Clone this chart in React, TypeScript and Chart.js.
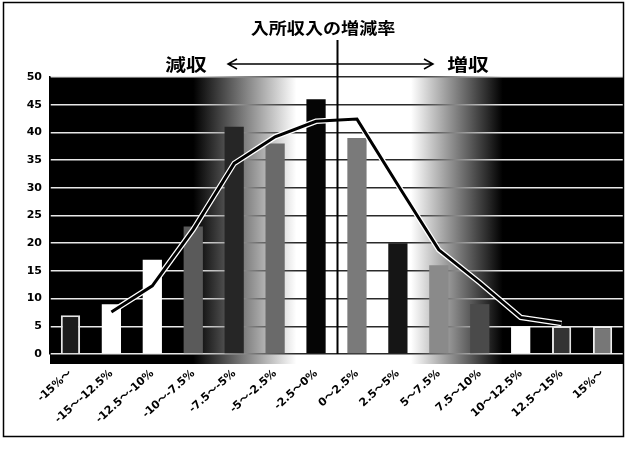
import React, { useEffect, useRef } from "react";
import { Chart, registerables } from "chart.js";

Chart.register(...registerables);

// 入所収入の増減率の階級
const categories = [
  "-15%～",
  "-15～-12.5%",
  "-12.5～-10%",
  "-10～-7.5%",
  "-7.5～-5%",
  "-5～-2.5%",
  "-2.5～0%",
  "0～2.5%",
  "2.5～5%",
  "5～7.5%",
  "7.5～10%",
  "10～12.5%",
  "12.5～15%",
  "15%～",
];

// 各階級の施設数
const facilityCounts = [7, 9, 17, 23, 41, 38, 46, 39, 20, 16, 9, 5, 5, 5];

// 移動平均の線
const trendValues = [null, 7.6, 12.3, 22.5, 34.4, 39.2, 42, 42.4, 30.5, 18.8, 12.9, 6.6, 5.5, null];

// y 軸の目盛
const yTicks = [0, 5, 10, 15, 20, 25, 30, 35, 40, 45, 50];

const titleText = "入所収入の増減率";
const leftLabel = "減収";
const rightLabel = "増収";

// 棒の塗り
const barFills = [
  "#1c1c1c", "#ffffff", "#ffffff", "#5a5a5a", "#262626", "#6a6a6a", "#050505",
  "#7a7a7a", "#151515", "#8a8a8a", "#4a4a4a", "#ffffff", "#333333", "#777777",
];
const barBorders = [
  "#e6e6e6", "#ffffff", "#ffffff", "#5a5a5a", "#262626", "#6a6a6a", "#050505",
  "#7a7a7a", "#151515", "#8a8a8a", "#4a4a4a", "#ffffff", "#e0e0e0", "#eeeeee",
];
const barBorderWidths = [2, 0, 0, 0, 0, 0, 0, 0, 0, 0, 0, 0, 2, 2];

const JP = '"Noto Sans CJK JP", "DejaVu Sans", sans-serif';
const LAT = '"DejaVu Sans", "Noto Sans CJK JP", sans-serif';

function plotGradient(ctx: CanvasRenderingContext2D, left: number, right: number, invert: boolean) {
  const g = ctx.createLinearGradient(left, 0, right, 0);
  const dark = invert ? "#e8e8e8" : "#000000";
  const light = invert ? "#2a2a2a" : "#ffffff";
  g.addColorStop(0, dark);
  g.addColorStop(0.25, dark);
  g.addColorStop(0.43, light);
  g.addColorStop(0.63, light);
  g.addColorStop(0.79, dark);
  g.addColorStop(1, dark);
  return g;
}

// 横に少し広げた文字
function wideText(ctx: CanvasRenderingContext2D, text: string, cx: number, cy: number, size: number, sx: number) {
  ctx.save();
  ctx.translate(cx, cy);
  ctx.scale(sx, 1);
  ctx.font = `bold ${size}px ${JP}`;
  ctx.textAlign = "center";
  ctx.textBaseline = "middle";
  ctx.fillText(text, 0, 0);
  ctx.restore();
}

const decorPlugin = {
  id: "decor",
  beforeDraw(chart: any) {
    const { ctx, chartArea: a } = chart;
    ctx.save();
    ctx.fillStyle = "#ffffff";
    ctx.fillRect(0, 0, chart.width, chart.height);
    // 背景のグラデーション
    ctx.fillStyle = plotGradient(ctx, a.left, a.right, false);
    ctx.fillRect(a.left, a.top, a.right - a.left, a.bottom - a.top);
    // 床
    ctx.fillRect(a.left, a.bottom, a.right - a.left, 10);
    ctx.restore();
  },
  afterDatasetsDraw(chart: any) {
    const { ctx, chartArea: a, scales } = chart;
    const xs = scales.x;
    const mid = (xs.getPixelForValue(6) + xs.getPixelForValue(7)) / 2 + 1;
    ctx.save();
    // 0% の縦線
    ctx.strokeStyle = "#000";
    ctx.lineWidth = 2;
    ctx.beginPath();
    ctx.moveTo(mid, 40);
    ctx.lineTo(mid, a.bottom);
    ctx.stroke();

    // 矢印
    const ay = 64;
    const ax1 = 228;
    const ax2 = 433;
    ctx.lineWidth = 1.5;
    ctx.beginPath();
    ctx.moveTo(ax1, ay);
    ctx.lineTo(ax2, ay);
    ctx.moveTo(ax1 + 9, ay - 5);
    ctx.lineTo(ax1, ay);
    ctx.lineTo(ax1 + 9, ay + 5);
    ctx.moveTo(ax2 - 9, ay - 5);
    ctx.lineTo(ax2, ay);
    ctx.lineTo(ax2 - 9, ay + 5);
    ctx.stroke();

    ctx.fillStyle = "#000";
    wideText(ctx, leftLabel, 186, 65, 17, 1.22);
    wideText(ctx, rightLabel, 468, 65, 17, 1.22);
    wideText(ctx, titleText, 323, 28, 16, 1.13);
    ctx.restore();
  },
  afterDraw(chart: any) {
    const { ctx } = chart;
    ctx.save();
    ctx.strokeStyle = "#000";
    ctx.lineWidth = 1.5;
    ctx.strokeRect(3.5, 2.5, 620, 434);
    ctx.restore();
  },
};

export default function App() {
  const canvasRef = useRef<HTMLCanvasElement | null>(null);

  useEffect(() => {
    const canvas = canvasRef.current;
    if (!canvas) return;
    let gridGrad: CanvasGradient | null = null;
    let gridKey = "";
    const gridColor = (c: any) => {
      const chart = c.chart;
      const a = chart.chartArea;
      if (!a) return "#888";
      const key = `${a.left}-${a.right}`;
      if (!gridGrad || key !== gridKey) {
        gridGrad = plotGradient(chart.ctx, a.left, a.right, true);
        gridKey = key;
      }
      return gridGrad;
    };

    const chart = new Chart(canvas, {
      type: "bar",
      data: {
        labels: categories,
        datasets: [
          {
            type: "line",
            label: "trend",
            data: trendValues,
            borderColor: "#000000",
            borderWidth: 3,
            pointRadius: 0,
            tension: 0,
            order: 0,
          },
          {
            type: "line",
            label: "trend-edge",
            data: trendValues,
            borderColor: "#ffffff",
            borderWidth: 5.5,
            pointRadius: 0,
            tension: 0,
            order: 1,
          },
          {
            type: "bar",
            label: "facilities",
            data: facilityCounts,
            backgroundColor: barFills,
            borderColor: barBorders,
            borderWidth: barBorderWidths,
            categoryPercentage: 1,
            barPercentage: 0.47,
            order: 2,
          },
        ] as any,
      },
      options: {
        responsive: false,
        animation: false,
        layout: { padding: { top: 77, right: 2, left: 0, bottom: 0 } },
        plugins: {
          legend: { display: false },
          tooltip: { enabled: false },
          title: { display: false },
        },
        scales: {
          x: {
            offset: true,
            grid: { display: false, drawTicks: false },
            border: { display: false },
            ticks: {
              color: "#000",
              font: { family: LAT, size: 11, weight: "bold" },
              minRotation: 42,
              maxRotation: 42,
              padding: 13,
              autoSkip: false,
            },
            afterFit: (s: any) => {
              s.height = 96;
            },
          },
          y: {
            min: 0,
            max: 50,
            afterBuildTicks: (s: any) => {
              s.ticks = yTicks.map((v) => ({ value: v }));
            },
            grid: { color: gridColor as any, lineWidth: 1.5, drawTicks: false },
            border: { display: true, color: "#000", width: 1.5 },
            ticks: {
              color: "#000",
              font: { family: LAT, size: 11, weight: "bold" },
              padding: 8,
            },
            afterFit: (s: any) => {
              s.width = 50;
            },
          },
        },
      },
      plugins: [decorPlugin],
    });
    return () => chart.destroy();
  }, []);

  return (
    <div style={{ position: "fixed", left: 0, top: 0, width: 625, height: 450 }}>
      <canvas ref={canvasRef} width={625} height={450} style={{ display: "block" }} />
    </div>
  );
}
